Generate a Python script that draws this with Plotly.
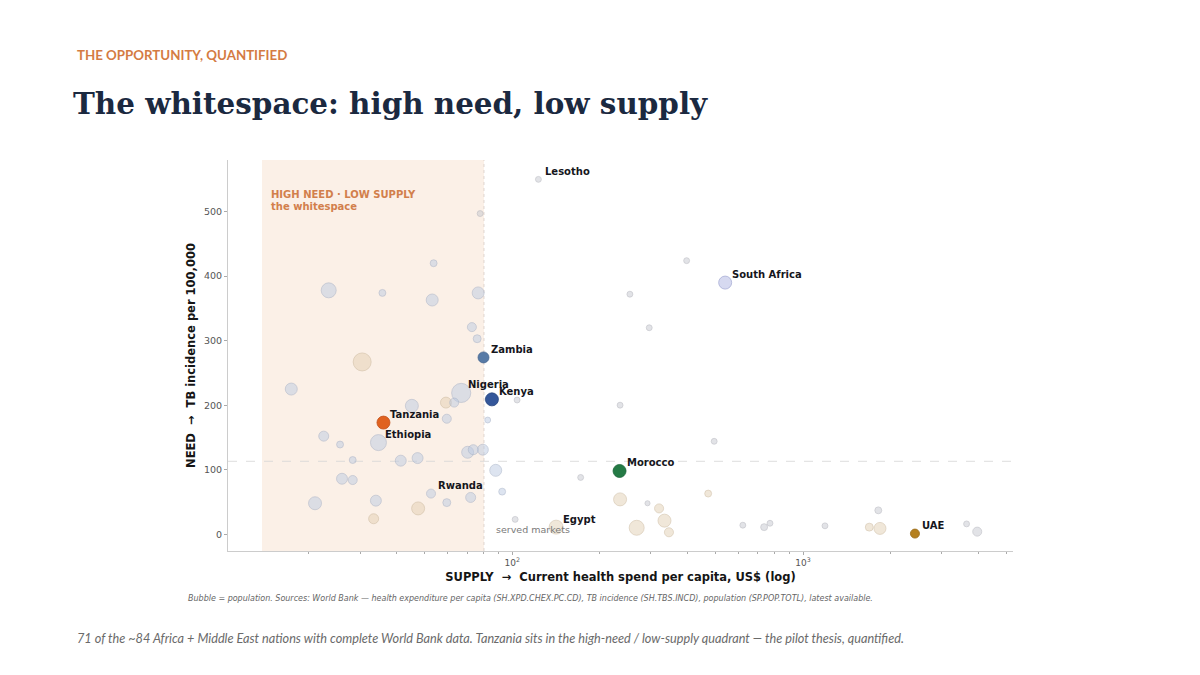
import numpy as np
import plotly.graph_objects as go

# ---------------- data ----------------
names = ["", "", "", "", "", "", "", "", "", "Zambia",
         "", "Nigeria", "", "", "Kenya", "", "", "", "", "Tanzania",
         "Ethiopia", "", "", "", "", "", "", "", "", "",
         "", "", "", "", "", "", "Rwanda", "", "", "",
         "", "Lesotho", "", "South Africa", "", "", "", "", "Morocco", "",
         "", "", "", "", "", "", "", "Egypt", "", "",
         "", "", "", "", "", "UAE", "", ""]
spend = [17.4, 23.4, 35.8, 53.7, 53.1, 76.4, 77.6, 72.7, 75.8, 79.7,
         30.5, 66.8, 59.2, 63.2, 85.2, 104, 45.2, 59.6, 82.4, 36.1,
         34.7, 22.5, 25.6, 28.3, 41.4, 47.3, 70.3, 73.5, 79.3, 87.8,
         26.0, 28.3, 21.0, 34.0, 33.4, 47.5, 52.6, 59.6, 72.0, 92.4,
         102.4, 123.1, 398, 540, 254, 296, 235, 495, 234, 172,
         235, 292, 320, 472, 334, 268, 346, 141.6, 621, 735,
         770, 1190, 1815, 1690, 1839, 2426, 3651, 3972]
tb = [225, 378, 374, 420, 363, 374, 497, 321, 303, 274,
      267, 219, 204, 204, 209, 208, 199, 179, 177, 173,
      142, 152, 139, 115, 114, 118, 127, 131, 131, 99,
      86, 84, 48, 52, 24, 40, 63, 49, 57, 66,
      23, 550, 424, 390, 372, 320, 200, 144, 98, 88,
      54, 48, 40, 63, 21, 10, 3, 11, 14, 11,
      17, 13, 37, 11, 9, 1, 16, 4]
pop = [53, 100, 7, 7, 53, 53, 3, 21, 13, 40,
       162, 190, 40, 21, 67, 3, 67, 21, 3, 67,
       119, 30, 7, 7, 40, 40, 53, 30, 40, 53,
       40, 21, 67, 40, 30, 67, 21, 13, 30, 7,
       3, 3, 3, 67, 3, 3, 3, 3, 67, 3,
       67, 1, 21, 7, 67, 100, 21, 82, 3, 7,
       3, 3, 7, 13, 53, 21, 3, 21]
group = ["ssa", "ssa", "ssa", "ssa", "ssa", "ssa", "oth", "ssa", "ssa", "ssa",
         "mena", "ssa", "mena", "ssa", "ssa", "oth", "ssa", "ssa", "ssa", "ssa",
         "ssa", "ssa", "ssa", "ssa", "ssa", "ssa", "ssa", "ssa", "ssa", "ssa",
         "ssa", "ssa", "ssa", "ssa", "mena", "mena", "ssa", "ssa", "ssa", "ssa",
         "oth", "oth", "oth", "ssa", "oth", "oth", "oth", "oth", "mena", "oth",
         "mena", "oth", "mena", "mena", "mena", "mena", "mena", "mena", "oth", "oth",
         "oth", "oth", "oth", "mena", "mena", "mena", "oth", "oth"]

SUPPLY_SPLIT = 80      # US$ per capita
NEED_SPLIT = 113       # TB incidence per 100k
WHITESPACE_LEFT = 13.8

# ---------------- styling ----------------
GROUP_FILL = {"ssa": "rgba(188,202,226,0.72)", "mena": "rgba(222,202,170,0.62)",
              "oth": "rgba(200,201,208,0.72)"}
GROUP_LINE = {"ssa": "rgba(160,172,194,0.85)", "mena": "rgba(196,176,146,0.8)",
              "oth": "rgba(172,174,182,0.85)"}
HIGHLIGHT = {"Tanzania": ("#E0621F", "#c4521a"), "Kenya": ("#34579A", "#27457e"),
             "Zambia": ("#577AA6", "#46668f"), "Morocco": ("#247A45", "#1b6638"),
             "UAE": ("#B5801F", "#986a18"), "South Africa": ("#D6D9F0", "#A9AED6")}

FONT = "DejaVu Sans"
L, R, T, B = 228, 1013, 160, 550.7
W, H = 1200, 675


def px2paper(px, py):
    return (px - L) / (R - L), (B - py) / (B - T)


def msize(p):
    return 4 + 1.1 * np.sqrt(p)


fig = go.Figure()

normal_idx = [i for i in range(len(spend)) if names[i] not in HIGHLIGHT]
order = sorted(normal_idx, key=lambda i: -pop[i])
fig.add_trace(go.Scatter(
    x=[spend[i] for i in order], y=[tb[i] for i in order], mode="markers",
    marker=dict(size=[msize(pop[i]) for i in order],
                color=[GROUP_FILL[group[i]] for i in order],
                line=dict(color=[GROUP_LINE[group[i]] for i in order], width=0.8)),
    hovertext=[names[i] for i in order], showlegend=False))

hl_idx = [i for i in range(len(spend)) if names[i] in HIGHLIGHT]
fig.add_trace(go.Scatter(
    x=[spend[i] for i in hl_idx], y=[tb[i] for i in hl_idx], mode="markers",
    marker=dict(size=[msize(pop[i]) for i in hl_idx], opacity=1,
                color=[HIGHLIGHT[names[i]][0] for i in hl_idx],
                line=dict(color=[HIGHLIGHT[names[i]][1] for i in hl_idx], width=0.8)),
    hovertext=[names[i] for i in hl_idx], showlegend=False))

# quadrant shading and split lines
fig.add_shape(type="rect", xref="x", yref="paper", x0=WHITESPACE_LEFT, x1=SUPPLY_SPLIT,
              y0=0, y1=1, fillcolor="#FBF0E7", line=dict(width=0), layer="below")
fig.add_shape(type="line", xref="x", yref="paper", x0=SUPPLY_SPLIT, x1=SUPPLY_SPLIT,
              y0=0, y1=1, line=dict(color="#D6CCC6", width=0.8, dash="dot"), layer="below")
fig.add_shape(type="line", xref="paper", yref="y", x0=0, x1=1, y0=NEED_SPLIT, y1=NEED_SPLIT,
              line=dict(color="#D6D6D6", width=0.8, dash="dash"), layer="below")

# country labels
for i, n in enumerate(names):
    if n:
        fig.add_annotation(x=np.log10(spend[i]), y=tb[i], text=n, showarrow=False,
                           xanchor="left", yanchor="middle", xshift=5, yshift=8,
                           font=dict(family=FONT, size=10, color="#15161c", weight="bold"))

ORANGE = "#D27F4C"
fig.add_annotation(x=np.log10(14.6), y=527, text="HIGH NEED · LOW SUPPLY", showarrow=False,
                   xanchor="left", yanchor="middle",
                   font=dict(family=FONT, size=10, color=ORANGE, weight="bold"))
fig.add_annotation(x=np.log10(14.6), y=508, text="the whitespace", showarrow=False,
                   xanchor="left", yanchor="middle",
                   font=dict(family=FONT, size=10, color=ORANGE, weight="bold"))
fig.add_annotation(x=np.log10(86.3), y=8, text="served markets", showarrow=False,
                   xanchor="left", yanchor="middle",
                   font=dict(family=FONT, size=9.5, color="#7a7a7a"))

# slide text
px_, py_ = px2paper(75, 55)
fig.add_annotation(xref="paper", yref="paper", x=px_, y=py_, text="THE OPPORTUNITY, QUANTIFIED",
                   showarrow=False, xanchor="left", yanchor="middle",
                   font=dict(family="Lato", size=13.3, color="#D47B43", weight="bold"))
px_, py_ = px2paper(71, 104)
fig.add_annotation(xref="paper", yref="paper", x=px_, y=py_,
                   text="The whitespace: high need, low supply",
                   showarrow=False, xanchor="left", yanchor="middle",
                   font=dict(family="DejaVu Serif", size=29.4, color="#1B2940", weight="bold"))
px_, py_ = px2paper(186, 598)
fig.add_annotation(xref="paper", yref="paper", x=px_, y=py_,
                   text="Bubble = population. Sources: World Bank — health expenditure per capita "
                        "(SH.XPD.CHEX.PC.CD), TB incidence (SH.TBS.INCD), population (SP.POP.TOTL), latest available.",
                   showarrow=False, xanchor="left", yanchor="middle",
                   font=dict(family=FONT, size=8, color="#666666", style="italic"))
px_, py_ = px2paper(75, 638)
fig.add_annotation(xref="paper", yref="paper", x=px_, y=py_,
                   text="71 of the ~84 Africa + Middle East nations with complete World Bank data. "
                        "Tanzania sits in the high-need / low-supply quadrant — the pilot thesis, quantified.",
                   showarrow=False, xanchor="left", yanchor="middle",
                   font=dict(family="Lato", size=12.7, color="#6a6a6a", style="italic"))

minor_vals = [v * m for m in (10, 100, 1000) for v in range(2, 10)]
fig.update_xaxes(type="log", range=[1.023, 3.722], showline=True, linecolor="#cccccc", linewidth=1,
                 ticks="outside", ticklen=3, tickcolor="#aaaaaa", tickvals=[100, 1000],
                 ticktext=["10<sup>2</sup>", "10<sup>3</sup>"],
                 tickfont=dict(family=FONT, size=9, color="#555555"),
                 minor=dict(tickvals=minor_vals, ticks="outside", ticklen=2, tickcolor="#aaaaaa",
                            showgrid=False),
                 showgrid=False, zeroline=False,
                 title=dict(text="SUPPLY\u00a0\u00a0→\u00a0\u00a0Current health spend per capita, US$ (log)",
                            font=dict(family=FONT, size=11.5, color="#151515", weight="bold"),
                            standoff=6))
fig.update_yaxes(range=[-26, 580], showline=True, linecolor="#cccccc", linewidth=1,
                 ticks="outside", ticklen=3, tickcolor="#aaaaaa",
                 tickvals=[0, 100, 200, 300, 400, 500],
                 tickfont=dict(family=FONT, size=9.5, color="#555555"),
                 showgrid=False, zeroline=False,
                 title=dict(text="NEED\u00a0\u00a0→\u00a0\u00a0TB incidence per 100,000",
                            font=dict(family=FONT, size=11.5, color="#151515", weight="bold"),
                            standoff=5))
fig.update_layout(width=W, height=H, margin=dict(l=L, r=W - R, t=T, b=H - B),
                  paper_bgcolor="white", plot_bgcolor="white", showlegend=False)

fig.write_html("out.html")
